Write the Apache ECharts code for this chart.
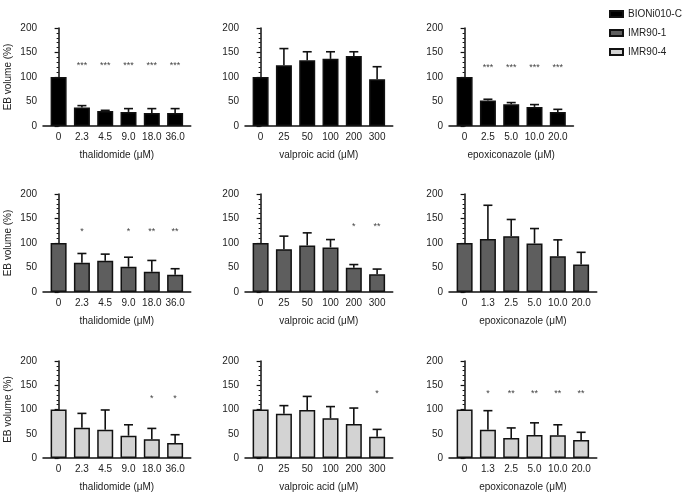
<!DOCTYPE html>
<html>
<head>
<meta charset="utf-8">
<script src="https://cdn.jsdelivr.net/npm/echarts@6/dist/echarts.min.js"></script>
<style>
  html, body { margin: 0; padding: 0; background: #fff; }
  #chart { width: 685px; height: 493px; }
</style>
</head>
<body>
<div id="chart"></div>
<script>
// dose labels (x categories)
const thalDoses = ['0', '2.3', '4.5', '9.0', '18.0', '36.0'];
const vpaDoses = ['0', '25', '50', '100', '200', '300'];
const epoxDosesTop = ['0', '2.5', '5.0', '10.0', '20.0'];
const epoxDoses = ['0', '1.3', '2.5', '5.0', '10.0', '20.0'];

const lineNames = ['BIONi010-C', 'IMR90-1', 'IMR90-4'];
const drugNames = ['thalidomide (μM)', 'valproic acid (μM)', 'epoxiconazole (μM)'];

// EB volume (%) means and SD (upper bar only)
const bioThalMean = [100, 38, 30.7, 28.7, 26.6, 26.6];
const bioThalSd = [0, 3.6, 1.3, 6.8, 8.9, 8.9];
const bioVpaMean = [100, 124, 134, 137, 142.7, 95.6];
const bioVpaSd = [0, 34, 17.5, 14.5, 8.8, 25.4];
const bioEpoxMean = [100, 52, 44.4, 39, 28.7];
const bioEpoxSd = [0, 2.6, 3.4, 4.7, 5.3];

const imr1ThalMean = [100, 59.7, 63.7, 51.5, 41.4, 35.3];
const imr1ThalSd = [0, 18.9, 13.6, 19.5, 23, 12.2];
const imr1VpaMean = [100, 87.5, 95, 91, 49.5, 36];
const imr1VpaSd = [0, 26.5, 25.7, 16, 6.5, 10.8];
const imr1EpoxMean = [100, 108, 114, 99, 73, 56];
const imr1EpoxSd = [0, 69, 34, 30.5, 33.4, 25];

const imr4ThalMean = [100, 62.4, 58.3, 46, 38.6, 31];
const imr4ThalSd = [0, 29.6, 40.7, 22.5, 22.4, 17];
const imr4VpaMean = [100, 91, 99, 82, 70, 44];
const imr4VpaSd = [0, 17, 28, 24, 33, 15];
const imr4EpoxMean = [100, 58, 41, 47.5, 47, 37];
const imr4EpoxSd = [0, 39.6, 21, 25, 21.5, 16];

// significance marks and the height they sit at
const bioThalStars = ['', '***', '***', '***', '***', '***'];
const bioVpaStars = ['', '', '', '', '', ''];
const bioEpoxStars = ['', '***', '***', '***', '***'];
const imr1ThalStars = ['', '*', '', '*', '**', '**'];
const imr1VpaStars = ['', '', '', '', '*', '**'];
const imr1EpoxStars = ['', '', '', '', '', ''];
const imr4ThalStars = ['', '', '', '', '*', '*'];
const imr4VpaStars = ['', '', '', '', '', '*'];
const imr4EpoxStars = ['', '*', '**', '**', '**', '**'];
const starLevels = [123, 0, 120, 123, 133, 0, 123, 133, 133];

const panels = [
  [thalDoses, bioThalMean, bioThalSd, bioThalStars],
  [vpaDoses, bioVpaMean, bioVpaSd, bioVpaStars],
  [epoxDosesTop, bioEpoxMean, bioEpoxSd, bioEpoxStars],
  [thalDoses, imr1ThalMean, imr1ThalSd, imr1ThalStars],
  [vpaDoses, imr1VpaMean, imr1VpaSd, imr1VpaStars],
  [epoxDoses, imr1EpoxMean, imr1EpoxSd, imr1EpoxStars],
  [thalDoses, imr4ThalMean, imr4ThalSd, imr4ThalStars],
  [vpaDoses, imr4VpaMean, imr4VpaSd, imr4VpaStars],
  [epoxDoses, imr4EpoxMean, imr4EpoxSd, imr4EpoxStars],
];

const barColors = ['#000000', '#5e5e5e', '#d3d3d3'];
const colLeft = [43, 245, 449];
const rowTop = [28, 194, 361];
const PX_PER_BAR = 23.3;
const FONT = '"Liberation Sans", Arial, sans-serif';

const grids = [], xAxes = [], yAxes = [], series = [];

panels.forEach(([doses, mean, sd, stars], i) => {
  const row = Math.floor(i / 3), col = i % 3;
  const n = doses.length;
  grids.push({
    left: colLeft[col],
    top: rowTop[row],
    width: (n - 1 + 1.34) * PX_PER_BAR,
    height: 98,
  });
  xAxes.push({
    type: 'value',
    gridIndex: i,
    min: -0.67,
    max: n - 1 + 0.67,
    splitLine: { show: false },
    axisLine: { lineStyle: { color: '#111', width: 1.5 } },
    axisTick: { show: false },
    axisLabel: {
      customValues: doses.map((d, k) => k),
      formatter: (v) => doses[Math.round(v)],
      color: '#222',
      fontSize: 10,
      fontFamily: FONT,
      margin: 6,
    },
    name: drugNames[col],
    nameLocation: 'middle',
    nameGap: 24,
    nameTextStyle: { color: '#222', fontSize: 10, fontFamily: FONT },
  });
  yAxes.push({
    type: 'value',
    gridIndex: i,
    min: 0,
    max: 200,
    interval: 50,
    splitLine: { show: false },
    axisLine: { show: true, lineStyle: { color: '#111', width: 1.5 } },
    axisTick: { show: true, length: 4, lineStyle: { color: '#111', width: 1.2 } },
    minorTick: { show: true, splitNumber: 5, length: 2, lineStyle: { color: '#111', width: 1 } },
    axisLabel: { color: '#222', fontSize: 10, fontFamily: FONT, margin: 6 },
    name: col === 0 ? 'EB volume (%)' : '',
    nameLocation: 'middle',
    nameGap: 30,
    nameTextStyle: { color: '#222', fontSize: 10, fontFamily: FONT },
  });

  series.push({
    type: 'bar',
    name: lineNames[row],
    xAxisIndex: i,
    yAxisIndex: i,
    barWidth: 16,
    itemStyle: { color: barColors[row], borderColor: '#111', borderWidth: 1.5 },
    data: mean.map((m, k) => [k, m]),
  });

  series.push({
    type: 'custom',
    xAxisIndex: i,
    yAxisIndex: i,
    silent: true,
    data: mean.map((m, k) => [k, m, m + sd[k]]),
    renderItem: (params, api) => {
      if (api.value(2) <= api.value(1)) return null;
      const base = api.coord([api.value(0), api.value(1)]);
      const top = api.coord([api.value(0), api.value(2)]);
      const st = { stroke: '#111', lineWidth: 1.6 };
      return {
        type: 'group',
        children: [
          { type: 'line', shape: { x1: base[0], y1: base[1], x2: top[0], y2: top[1] }, style: st },
          { type: 'line', shape: { x1: top[0] - 4.5, y1: top[1], x2: top[0] + 4.5, y2: top[1] }, style: st },
        ],
      };
    },
  });

  series.push({
    type: 'custom',
    xAxisIndex: i,
    yAxisIndex: i,
    silent: true,
    data: stars.map((s, k) => [k, starLevels[i], s]),
    renderItem: (params, api) => {
      const s = stars[params.dataIndex];
      if (!s) return null;
      const p = api.coord([api.value(0), api.value(1)]);
      return {
        type: 'text',
        x: p[0],
        y: p[1],
        style: {
          text: s,
          fill: '#444',
          fontSize: 9,
          fontFamily: FONT,
          align: 'center',
          verticalAlign: 'middle',
        },
      };
    },
  });
});

const chart = echarts.init(document.getElementById('chart'), null, { renderer: 'canvas' });
chart.setOption({
  animation: false,
  backgroundColor: '#fff',
  legend: {
    data: lineNames,
    orient: 'vertical',
    left: 609,
    top: 9,
    padding: 0,
    icon: 'rect',
    itemWidth: 13,
    itemHeight: 6,
    itemGap: 9,
    textStyle: { color: '#222', fontSize: 10, fontFamily: FONT },
  },
  grid: grids,
  xAxis: xAxes,
  yAxis: yAxes,
  series: series,
});
</script>
</body>
</html>
